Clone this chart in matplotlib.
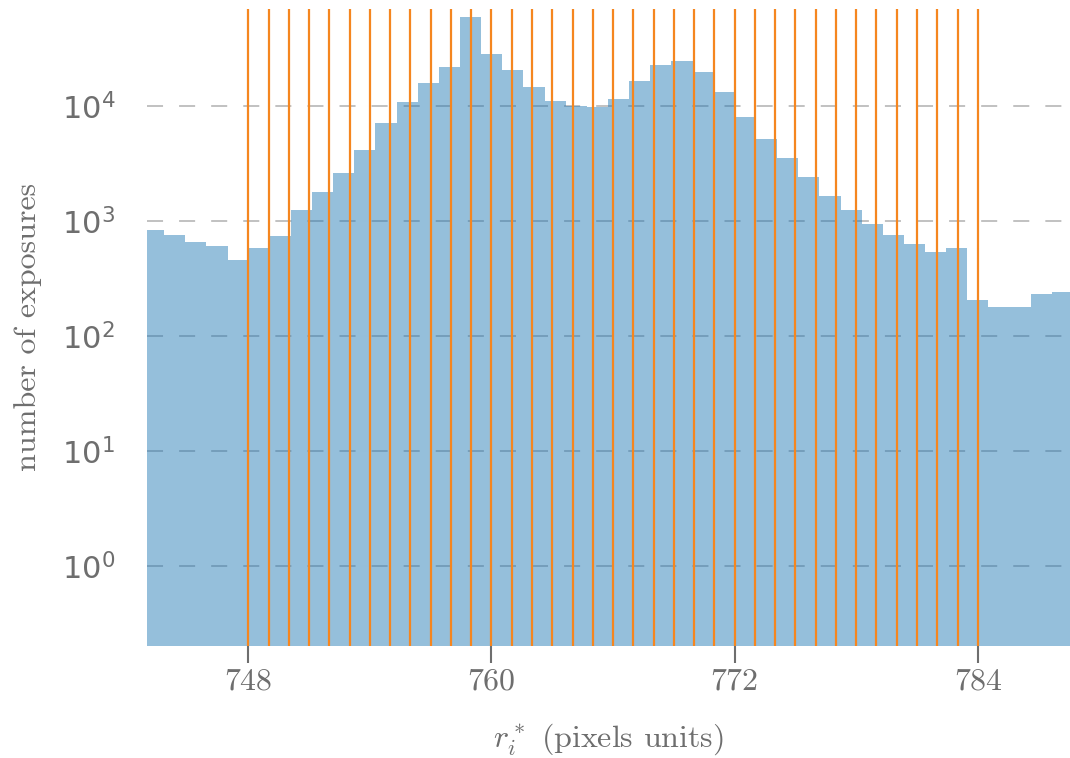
import numpy as np
import matplotlib
matplotlib.use("Agg")
import matplotlib.pyplot as plt

# histogram of r_i^* over all exposures (44 equal bins)
bin_lo = 742.8
bin_hi = 788.7
counts = [834, 764, 655, 608, 457, 578, 735, 1236, 1774, 2612, 4166,
          7060, 10900, 15950, 21730, 59160, 28380, 20560, 14730, 11050,
          10100, 9740, 11580, 16520, 22760, 24790, 19770, 13240, 8070,
          5170, 3525, 2410, 1648, 1236, 940, 750, 638, 535, 578, 204,
          178, 178, 230, 244]

# integer pixel positions marked in orange
pixel_marks = [748, 749, 750, 751, 752, 753, 754, 755, 756, 757, 758, 759,
               760, 761, 762, 763, 764, 765, 766, 767, 768, 769, 770, 771,
               772, 773, 774, 775, 776, 777, 778, 779, 780, 781, 782, 783,
               784]

xticks = [748, 760, 772, 784]
yticks = [1, 10, 100, 1000, 10000]

text_gray = "#6e6e6e"

edges = np.linspace(bin_lo, bin_hi, len(counts) + 1)
centers = 0.5 * (edges[:-1] + edges[1:])

fig = plt.figure(figsize=(10.7, 7.58), dpi=100)
ax = fig.add_axes([0.1374, 0.1484, 0.8626, 0.8397])

ax.hist(centers, bins=edges, weights=counts, histtype="stepfilled",
        color="tab:blue", alpha=0.47, lw=1.0)
for m in pixel_marks:
    ax.axvline(m, color="#f5861f", lw=1.6, zorder=3)

ax.set_yscale("log")
ax.set_xlim(743.0, 788.55)
ax.set_ylim(0.204, 69800)

ax.set_axisbelow(True)
ax.yaxis.grid(True, color="#b0b0b0", lw=1.1, linestyle=(0, (10.5, 10.5)))
ax.xaxis.grid(False)
for s in ax.spines.values():
    s.set_visible(False)

ax.set_yticks(yticks)
ax.yaxis.set_minor_locator(matplotlib.ticker.NullLocator())
ax.tick_params(axis="y", length=0, pad=23, labelsize=22, labelcolor=text_gray)

ax.set_xticks(xticks)
ax.set_xticklabels([str(t) for t in xticks], fontfamily="cmr10")
ax.tick_params(axis="x", length=12, width=1.5, color=text_gray, pad=4,
               labelsize=23, labelcolor=text_gray)

ax.set_xlabel(r"$r_i^*$ (pixels units)", fontfamily="cmr10",
              math_fontfamily="cm", fontsize=23, color=text_gray, labelpad=19)
ax.set_ylabel("number of exposures", fontfamily="cmr10", fontsize=23,
              color=text_gray, labelpad=14)

fig.savefig("out.png", dpi=100)
